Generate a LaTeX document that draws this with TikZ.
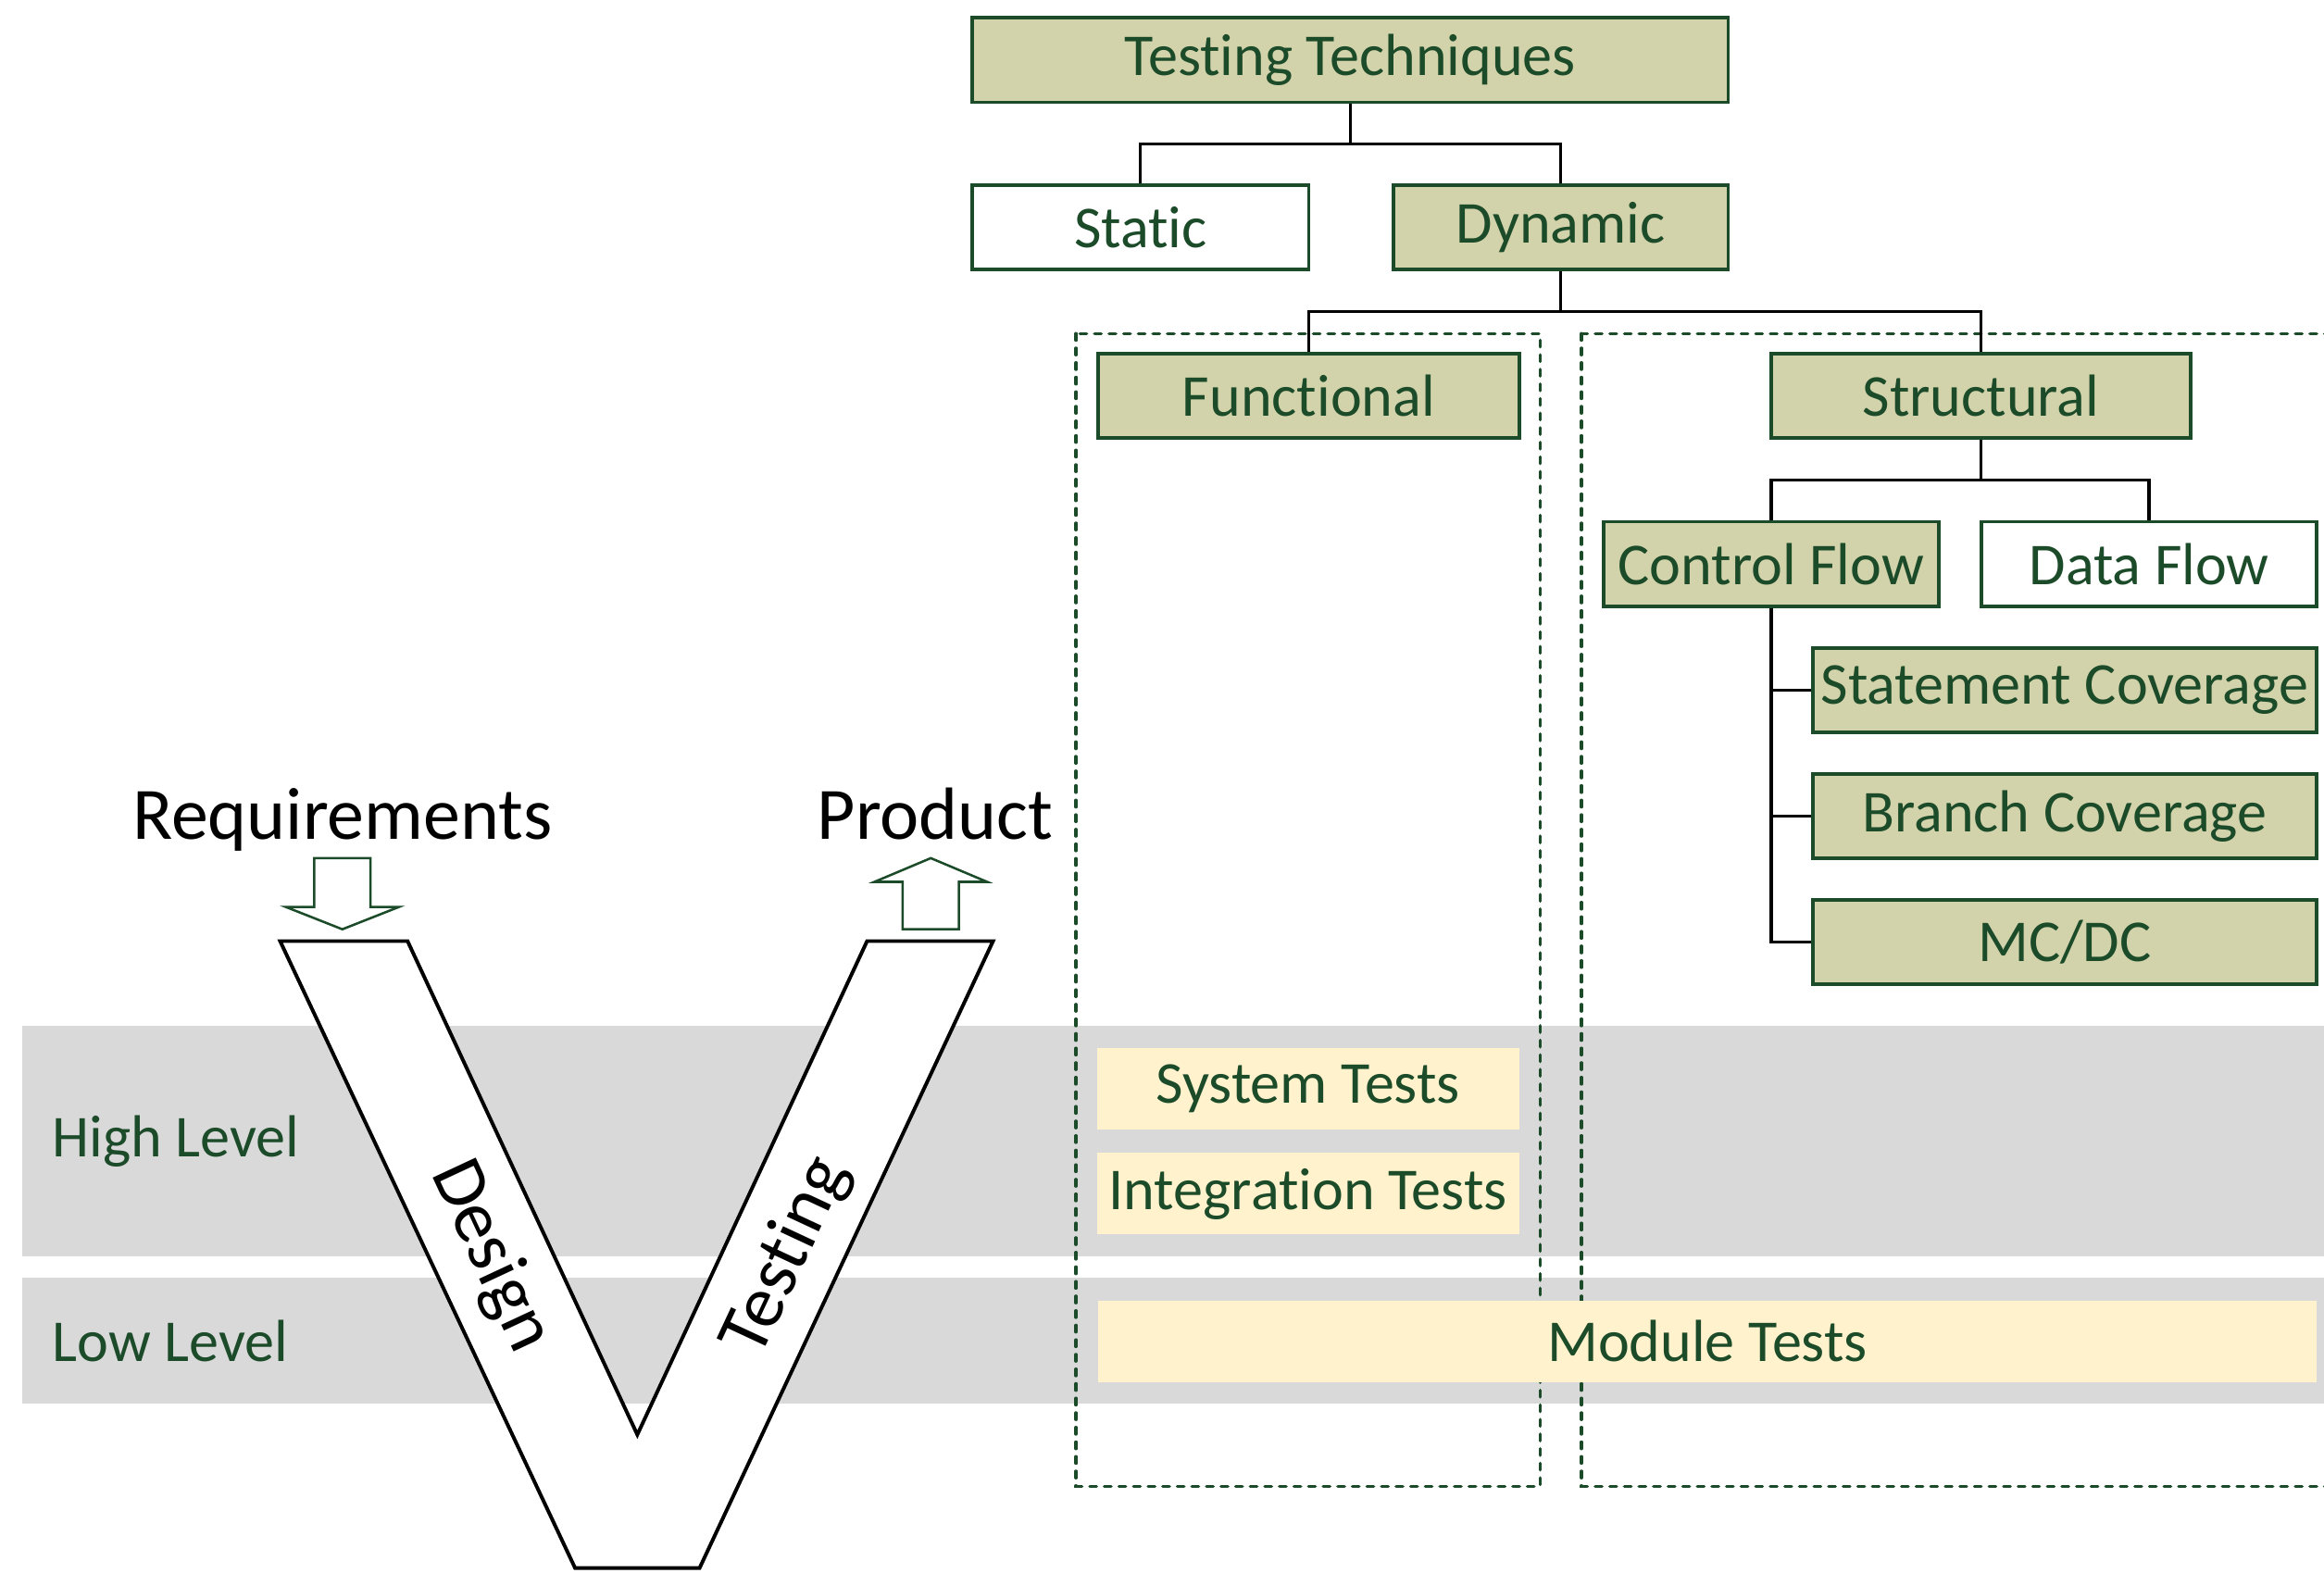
\documentclass[tikz,border=0pt]{standalone}
\usepackage{fontspec}
\setmainfont{Carlito}[Ligatures=NoCommon]

\definecolor{dkgreen}{RGB}{28,75,42}
\definecolor{techfill}{RGB}{211,211,171}
\definecolor{testfill}{RGB}{255,242,204}
\definecolor{bandgray}{RGB}{217,217,217}

\begin{document}
\begin{tikzpicture}[
        tech/.style={draw=dkgreen, line width=0.7pt, fill=techfill, text=dkgreen,
            minimum height=0.57cm, inner sep=0pt, font=\fontsize{11.4}{13.7}\selectfont},
        plain/.style={tech, fill=white},
        testbox/.style={fill=testfill, text=dkgreen, minimum height=0.55cm,
            inner sep=0pt, font=\fontsize{11.4}{13.7}\selectfont},
        link/.style={line width=0.6pt},
        grp/.style={draw=dkgreen, line width=0.6pt, line cap=round,
            dash pattern=on 1.3pt off 1.5pt},
        lvl/.style={anchor=west, text=dkgreen, font=\fontsize{11.4}{13.7}\selectfont},
        blockarrow/.style={draw=dkgreen, line width=0.45pt, fill=white},
        big/.style={font=\fontsize{14.2}{17}\selectfont}
    ]
    \useasboundingbox (0,0) rectangle (15.68,-10.61);

    % level bands
    \fill[bandgray] (0.15,-6.92) rectangle (15.70,-8.48);
    \fill[bandgray] (0.15,-8.62) rectangle (15.70,-9.47);
    \node[lvl] (high) at (0.23,-7.70) {High Level};
    \node[lvl] (low) at (0.23,-9.05) {Low Level};

    % the V
    \draw[line width=0.7pt, fill=white, line join=miter]
        (1.89,-6.35) -- (2.75,-6.35) -- (4.30,-9.68) -- (5.85,-6.35)
        -- (6.70,-6.35) -- (4.72,-10.58) -- (3.88,-10.58) -- cycle;
    \node[big, rotate=-65] (design) at (3.31,-8.48) {Design};
    \node[big, rotate=65] (testing) at (5.31,-8.48) {Testing};

    \node[big, anchor=base] (req) at (2.31,-5.66) {Requirements};
    \node[big, anchor=base] (prod) at (6.31,-5.66) {Product};
    \draw[blockarrow] (2.12,-5.79) -- (2.50,-5.79) -- (2.50,-6.12) -- (2.69,-6.12)
        -- (2.31,-6.27) -- (1.93,-6.12) -- (2.12,-6.12) -- cycle;
    \draw[blockarrow] (6.09,-6.27) -- (6.47,-6.27) -- (6.47,-5.95) -- (6.66,-5.95)
        -- (6.28,-5.79) -- (5.90,-5.95) -- (6.09,-5.95) -- cycle;

    % functional / structural groups
    \draw[grp] (7.26,-2.25) rectangle (10.39,-10.03);
    \draw[grp] (10.67,-2.25) rectangle (15.90,-10.03);

    % test levels
    \node[testbox, minimum width=2.85cm] (sys) at (8.825,-7.345) {System Tests};
    \node[testbox, minimum width=2.85cm] (integ) at (8.825,-8.055) {Integration Tests};
    \node[testbox, minimum width=8.22cm] (mod) at (11.52,-9.05) {Module Tests};

    % technique tree
    \node[tech, minimum width=5.10cm] (tt) at (9.11,-0.405) {Testing Techniques};
    \node[plain, minimum width=2.27cm] (static) at (7.695,-1.535) {Static};
    \node[tech, minimum width=2.26cm] (dyn) at (10.53,-1.535) {Dynamic};
    \node[tech, minimum width=2.84cm] (func) at (8.83,-2.67) {Functional};
    \node[tech, minimum width=2.83cm] (struct) at (13.365,-2.67) {Structural};
    \node[tech, minimum width=2.26cm] (cf) at (11.95,-3.805) {Control Flow};
    \node[plain, minimum width=2.26cm] (df) at (14.50,-3.805) {Data Flow};
    \node[tech, minimum width=3.40cm] (stmt) at (13.93,-4.655) {Statement Coverage};
    \node[tech, minimum width=3.40cm] (branch) at (13.93,-5.505) {Branch Coverage};
    \node[tech, minimum width=3.40cm] (mcdc) at (13.93,-6.355) {MC/DC};

    \foreach \p/\c in {tt/static, tt/dyn, dyn/func, dyn/struct, struct/cf, struct/df}{
        \draw[link] (\p.south) -- ++(0,-0.27) -| (\c.north);
    }
    \foreach \c in {stmt, branch, mcdc}{
        \draw[link] (cf.south) |- (\c.west);
    }
\end{tikzpicture}
\end{document}
